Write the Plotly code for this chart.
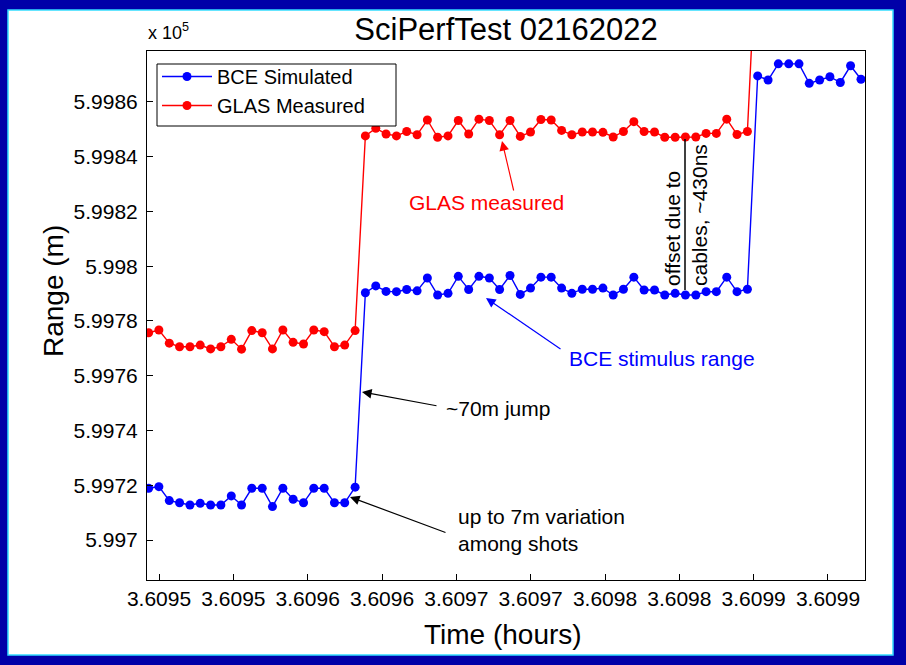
import plotly.graph_objects as go

# ---------------- data ----------------
time_h = [
    3.6094930, 3.6094999, 3.6095069, 3.6095138, 3.6095208, 3.6095277, 3.6095347,
    3.6095416, 3.6095486, 3.6095555, 3.6095624, 3.6095694, 3.6095763, 3.6095833,
    3.6095902, 3.6095972, 3.6096041, 3.6096111, 3.6096180, 3.6096249, 3.6096319,
    3.6096388, 3.6096458, 3.6096527, 3.6096597, 3.6096666, 3.6096736, 3.6096805,
    3.6096874, 3.6096944, 3.6097013, 3.6097083, 3.6097152, 3.6097222, 3.6097291,
    3.6097361, 3.6097430, 3.6097499, 3.6097569, 3.6097638, 3.6097708, 3.6097777,
    3.6097847, 3.6097916, 3.6097986, 3.6098055, 3.6098124, 3.6098194, 3.6098263,
    3.6098333, 3.6098402, 3.6098472, 3.6098541, 3.6098611, 3.6098680, 3.6098749,
    3.6098819, 3.6098888, 3.6098958, 3.6099027, 3.6099097, 3.6099166, 3.6099236,
    3.6099305, 3.6099374, 3.6099444, 3.6099513, 3.6099583, 3.6099652, 3.6099722,
]

bce_simulated = [
    599718.9, 599719.5, 599714.4, 599713.6, 599712.8, 599713.4, 599712.8, 599712.8,
    599716.1, 599712.8, 599718.9, 599718.9, 599712.2, 599718.9, 599714.9, 599713.6,
    599718.9, 599718.9, 599713.6, 599713.6, 599719.3,
    599790.3, 599792.8, 599790.8, 599790.7, 599791.5, 599791.0, 599795.7, 599789.5,
    599790.1, 599796.3, 599791.5, 599796.3, 599795.7, 599791.5, 599796.6, 599789.7,
    599792.0, 599796.0, 599796.0, 599792.0, 599790.1, 599791.6, 599791.6, 599792.0,
    599789.5, 599791.6, 599796.0, 599791.3, 599791.3, 599789.5, 599790.1, 599789.5,
    599789.5, 599790.7, 599790.7, 599796.0, 599790.7, 599791.6,
    599869.5, 599868.0, 599873.9, 599873.9, 599873.9, 599866.8, 599868.0, 599869.2,
    599867.1, 599873.2, 599868.3,
]

glas_measured = [
    599775.7, 599776.7, 599771.9, 599770.6, 599770.6, 599771.2, 599769.8, 599770.6,
    599773.3, 599769.7, 599776.5, 599775.7, 599769.8, 599776.7, 599772.2, 599771.6,
    599776.7, 599776.1, 599770.6, 599771.2, 599776.5,
    599847.6, 599850.4, 599848.3, 599847.6, 599849.2, 599848.0, 599853.4, 599847.1,
    599847.6, 599853.2, 599848.3, 599853.7, 599853.2, 599848.0, 599853.2, 599847.4,
    599849.0, 599853.6, 599853.4, 599849.6, 599848.0, 599849.0, 599849.0, 599848.9,
    599847.2, 599849.2, 599852.8, 599849.2, 599849.0, 599847.1, 599847.1, 599847.2,
    599847.2, 599848.5, 599848.5, 599853.7, 599848.1, 599849.2,
    599926.8, 599925.3, 599931.2, 599931.2, 599931.2, 599924.1, 599925.3, 599926.5,
    599924.4, 599930.5, 599925.6,
]

x_tick_vals = [3.60950, 3.60955, 3.60960, 3.60965, 3.60970,
               3.60975, 3.60980, 3.60985, 3.60990, 3.60995]
x_tick_text = ["3.6095", "3.6095", "3.6096", "3.6096", "3.6097",
               "3.6097", "3.6098", "3.6098", "3.6099", "3.6099"]
y_tick_vals = [599700, 599720, 599740, 599760, 599780, 599800, 599820, 599840, 599860]
y_tick_text = ["5.997", "5.9972", "5.9974", "5.9976", "5.9978",
               "5.998", "5.9982", "5.9984", "5.9986"]

# ---------------- layout helpers ----------------
W, H = 906, 665
L, R, T, B = 147, 865, 51, 580
FONT = "Liberation Sans, Arial, Helvetica, sans-serif"


def px(x):
    return (x - L) / (R - L)


def py(y):
    return (B - y) / (B - T)


fig = go.Figure()
fig.add_trace(go.Scatter(
    x=time_h, y=bce_simulated, mode="lines+markers", name="BCE Simulated",
    line=dict(color="#0000FF", width=1.4),
    marker=dict(color="#0000FF", size=9, line=dict(width=0)),
))
fig.add_trace(go.Scatter(
    x=time_h, y=glas_measured, mode="lines+markers", name="GLAS Measured",
    line=dict(color="#FF0000", width=1.4),
    marker=dict(color="#FF0000", size=9, line=dict(width=0)),
))

axis_common = dict(
    showline=True, linecolor="black", linewidth=1, mirror=True,
    ticks="inside", ticklen=6, tickcolor="black", tickwidth=1,
    showgrid=False, zeroline=False,
    tickfont=dict(family=FONT, size=21, color="black"),
)

fig.update_xaxes(range=[3.6094919, 3.6099749], tickmode="array",
                 tickvals=x_tick_vals, ticktext=x_tick_text,
                 ticklabelstandoff=0, **axis_common)
fig.update_yaxes(range=[599685.4, 599878.6], tickmode="array",
                 tickvals=y_tick_vals, ticktext=y_tick_text,
                 ticklabelstandoff=4, **axis_common)

annotations = [
    # axis titles
    dict(text="Time (hours)", x=px(503), y=py(634), xref="paper", yref="paper",
         showarrow=False, xanchor="center", yanchor="middle",
         font=dict(family=FONT, size=28, color="black")),
    dict(text="Range (m)", x=px(53), y=py(291), xref="paper", yref="paper",
         showarrow=False, xanchor="center", yanchor="middle", textangle=-90,
         font=dict(family=FONT, size=28, color="black")),
    # exponent label
    dict(text="x 10<sup>5</sup>", x=px(146), y=py(31), xref="paper", yref="paper",
         showarrow=False, xanchor="left", yanchor="middle",
         font=dict(family=FONT, size=18, color="black")),
    # text labels
    dict(text="GLAS measured", x=px(407), y=py(203), xref="paper", yref="paper",
         showarrow=False, xanchor="left", yanchor="middle",
         font=dict(family=FONT, size=21, color="#FF0000")),
    dict(text="BCE stimulus range", x=px(567), y=py(358), xref="paper", yref="paper",
         showarrow=False, xanchor="left", yanchor="middle",
         font=dict(family=FONT, size=21, color="#0000FF")),
    dict(text="~70m jump", x=px(444), y=py(408), xref="paper", yref="paper",
         showarrow=False, xanchor="left", yanchor="middle",
         font=dict(family=FONT, size=21, color="black")),
    dict(text="up to 7m variation<br>among shots", x=px(456), y=py(530),
         xref="paper", yref="paper", showarrow=False, xanchor="left",
         yanchor="middle", align="left",
         font=dict(family=FONT, size=21, color="black")),
    dict(text="offset due to<br>cables, ~430ns", x=px(686), y=py(215),
         xref="paper", yref="paper", showarrow=False, xanchor="center",
         yanchor="middle", align="left", textangle=-90,
         font=dict(family=FONT, size=21, color="black")),
]

# arrows (tip position, tail offset in pixels)
arrows = [
    (502, 141, 12, 51, "#FF0000"),
    (486, 298, 76, 52, "#0000FF"),
    (362, 392, 76, 14, "black"),
    (350, 497, 97, 36, "black"),
]
for tx, ty, dx, dy, col in arrows:
    annotations.append(dict(
        text="", x=px(tx), y=py(ty), xref="paper", yref="paper",
        showarrow=True, ax=dx, ay=dy, axref="pixel", ayref="pixel",
        arrowhead=2, arrowsize=1.6, arrowwidth=1.2, arrowcolor=col,
    ))

shapes = [
    # white slide area with thin cyan edge
    dict(type="rect", xref="paper", yref="paper",
         x0=px(8), x1=px(893), y0=py(655), y1=py(10),
         fillcolor="white", line=dict(color="#33DDFF", width=1.5), layer="below"),
    # legend box
    dict(type="rect", xref="paper", yref="paper",
         x0=px(157), x1=px(396), y0=py(126), y1=py(64),
         fillcolor="white", line=dict(color="black", width=1), layer="above"),
    # vertical offset marker
    dict(type="line", xref="paper", yref="paper",
         x0=px(685), x1=px(685), y0=py(290), y1=py(139),
         line=dict(color="black", width=1.5)),
]

fig.update_layout(
    width=W, height=H,
    margin=dict(l=L, r=W - R, t=T, b=H - B, pad=0),
    paper_bgcolor="#0000A8",
    plot_bgcolor="white",
    font=dict(family=FONT, color="black"),
    title=dict(text="SciPerfTest 02162022", x=506 / W, xanchor="center",
               y=1 - 29 / H, yanchor="middle",
               font=dict(family=FONT, size=31, color="black")),
    showlegend=True,
    legend=dict(x=px(157), y=py(57), xanchor="left", yanchor="top",
                bgcolor="rgba(0,0,0,0)", borderwidth=0,
                font=dict(family=FONT, size=20, color="black"),
                itemwidth=50, tracegroupgap=0),
    annotations=annotations,
    shapes=shapes,
)

fig.write_html("out.html")
